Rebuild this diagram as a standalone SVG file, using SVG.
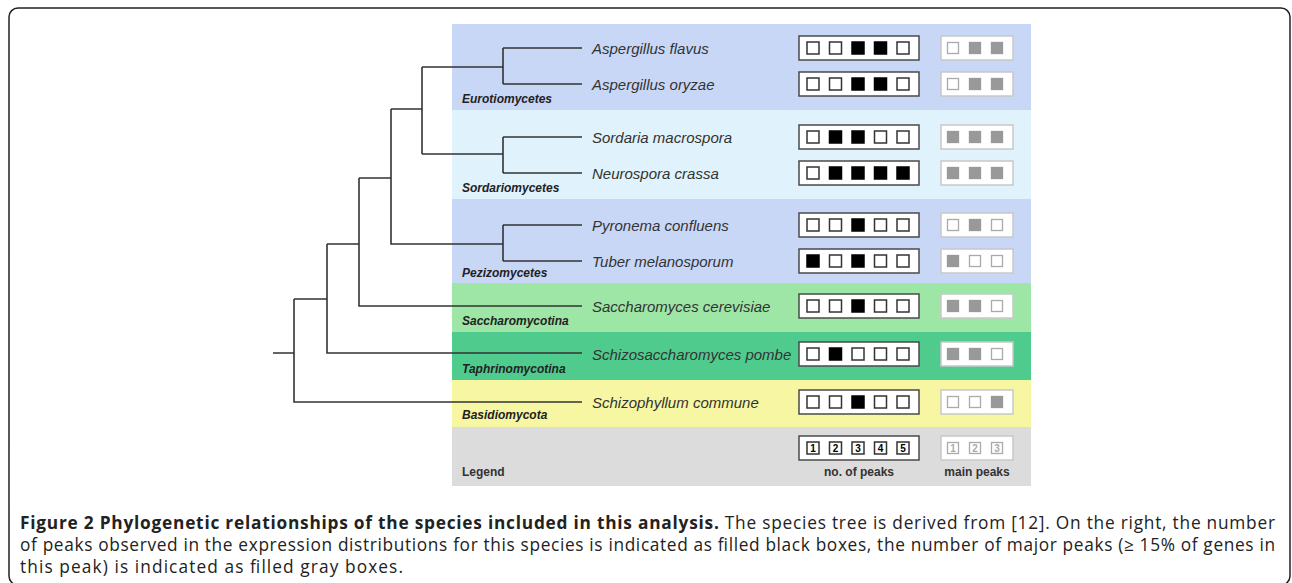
<svg xmlns="http://www.w3.org/2000/svg" width="1292" height="583" viewBox="0 0 1292 583">
<style>
.sp{font-family:"Liberation Sans",Arial,sans-serif;font-style:italic;font-size:15px;fill:#333}
.cl{font-family:"Liberation Sans",Arial,sans-serif;font-style:italic;font-weight:bold;font-size:12px;fill:#222}
.lg{font-family:"Liberation Sans",Arial,sans-serif;font-weight:bold;font-size:12px;fill:#333}
.pb{fill:#fff;stroke:#4a4a4a;stroke-width:1.5}
.mb{fill:#fff;stroke:#c8c8c8;stroke-width:1.5}
.e{fill:#fff;stroke:#333;stroke-width:1.5}
.f{fill:#000;stroke:#000;stroke-width:1.5}
.ge{fill:#fff;stroke:#aaa;stroke-width:1.3}
.gf{fill:#999;stroke:#999;stroke-width:1.3}
.tree path{fill:none;stroke:#333;stroke-width:1.6}
.cap{font-family:"Open Sans",Lato,sans-serif;font-size:17.3px;fill:#222}
.num{font-family:"Liberation Sans",Arial,sans-serif;font-weight:bold;font-size:10px;text-anchor:middle}
</style>
<rect x="9" y="8" width="1281" height="577" rx="9" fill="#fff" stroke="#222" stroke-width="1.5"/>
<g id="bands">
<rect x="452" y="24" width="579" height="86" fill="#c9d7f7"/>
<rect x="452" y="110" width="579" height="89" fill="#e0f2fb"/>
<rect x="452" y="199" width="579" height="84" fill="#c9d7f7"/>
<rect x="452" y="283" width="579" height="49" fill="#9ee6a6"/>
<rect x="452" y="332" width="579" height="48" fill="#4fcb8e"/>
<rect x="452" y="380" width="579" height="47" fill="#f7f7a3"/>
<rect x="452" y="427" width="579" height="59" fill="#dcdcdc"/>
</g>
<g id="clades">
<text class="cl" x="462" y="103">Eurotiomycetes</text>
<text class="cl" x="462" y="192">Sordariomycetes</text>
<text class="cl" x="462" y="277">Pezizomycetes</text>
<text class="cl" x="462" y="325">Saccharomycotina</text>
<text class="cl" x="462" y="373">Taphrinomycotina</text>
<text class="cl" x="462" y="419">Basidiomycota</text>
<text class="lg" x="462" y="476">Legend</text>
</g>
<g id="connectors" class="tree">
<path d="M273,353 H294 M294,299 V402 H582 M294,299 H327 M327,244 V353 H582 M327,244 H359 M359,178 V306 H582 M359,178 H391 M391,109 V244 H503 M503,225 V261 M503,225 H582 M503,261 H582 M391,109 H422 M422,67 V154 M422,67 H503 M503,48 V84 M503,48 H582 M503,84 H582 M422,154 H503 M503,137 V173 M503,137 H582 M503,173 H582"/>
</g>
<defs>
<rect id="E" class="e" width="12" height="12"/>
<rect id="F" class="f" width="12" height="12"/>
<rect id="GE" class="ge" width="11" height="11"/>
<rect id="GF" class="gf" width="11" height="11"/>
</defs>
<g id="row1"><text class="sp" x="592" y="54">Aspergillus flavus</text>
<rect class="pb" x="799" y="36" width="120" height="24"/>
<use href="#E" x="807" y="42"/><use href="#E" x="829.5" y="42"/><use href="#F" x="852" y="42"/><use href="#F" x="874.5" y="42"/><use href="#E" x="897" y="42"/>
<rect class="mb" x="941" y="36" width="72" height="24"/>
<use href="#GE" x="947.5" y="42.5"/><use href="#GF" x="969.5" y="42.5"/><use href="#GF" x="991.5" y="42.5"/></g>
<g id="row2"><text class="sp" x="592" y="90">Aspergillus oryzae</text>
<rect class="pb" x="799" y="72" width="120" height="24"/>
<use href="#E" x="807" y="78"/><use href="#E" x="829.5" y="78"/><use href="#F" x="852" y="78"/><use href="#F" x="874.5" y="78"/><use href="#E" x="897" y="78"/>
<rect class="mb" x="941" y="72" width="72" height="24"/>
<use href="#GE" x="947.5" y="78.5"/><use href="#GF" x="969.5" y="78.5"/><use href="#GF" x="991.5" y="78.5"/></g>
<g id="row3"><text class="sp" x="592" y="143">Sordaria macrospora</text>
<rect class="pb" x="799" y="125" width="120" height="24"/>
<use href="#E" x="807" y="131"/><use href="#F" x="829.5" y="131"/><use href="#F" x="852" y="131"/><use href="#E" x="874.5" y="131"/><use href="#E" x="897" y="131"/>
<rect class="mb" x="941" y="125" width="72" height="24"/>
<use href="#GF" x="947.5" y="131.5"/><use href="#GF" x="969.5" y="131.5"/><use href="#GF" x="991.5" y="131.5"/></g>
<g id="row4"><text class="sp" x="592" y="179">Neurospora crassa</text>
<rect class="pb" x="799" y="161" width="120" height="24"/>
<use href="#E" x="807" y="167"/><use href="#F" x="829.5" y="167"/><use href="#F" x="852" y="167"/><use href="#F" x="874.5" y="167"/><use href="#F" x="897" y="167"/>
<rect class="mb" x="941" y="161" width="72" height="24"/>
<use href="#GF" x="947.5" y="167.5"/><use href="#GF" x="969.5" y="167.5"/><use href="#GF" x="991.5" y="167.5"/></g>
<g id="row5"><text class="sp" x="592" y="231">Pyronema confluens</text>
<rect class="pb" x="799" y="213" width="120" height="24"/>
<use href="#E" x="807" y="219"/><use href="#E" x="829.5" y="219"/><use href="#F" x="852" y="219"/><use href="#E" x="874.5" y="219"/><use href="#E" x="897" y="219"/>
<rect class="mb" x="941" y="213" width="72" height="24"/>
<use href="#GE" x="947.5" y="219.5"/><use href="#GF" x="969.5" y="219.5"/><use href="#GE" x="991.5" y="219.5"/></g>
<g id="row6"><text class="sp" x="592" y="267">Tuber melanosporum</text>
<rect class="pb" x="799" y="249" width="120" height="24"/>
<use href="#F" x="807" y="255"/><use href="#E" x="829.5" y="255"/><use href="#F" x="852" y="255"/><use href="#E" x="874.5" y="255"/><use href="#E" x="897" y="255"/>
<rect class="mb" x="941" y="249" width="72" height="24"/>
<use href="#GF" x="947.5" y="255.5"/><use href="#GE" x="969.5" y="255.5"/><use href="#GE" x="991.5" y="255.5"/></g>
<g id="row7"><text class="sp" x="592" y="312">Saccharomyces cerevisiae</text>
<rect class="pb" x="799" y="294" width="120" height="24"/>
<use href="#E" x="807" y="300"/><use href="#E" x="829.5" y="300"/><use href="#F" x="852" y="300"/><use href="#E" x="874.5" y="300"/><use href="#E" x="897" y="300"/>
<rect class="mb" x="941" y="294" width="72" height="24"/>
<use href="#GF" x="947.5" y="300.5"/><use href="#GF" x="969.5" y="300.5"/><use href="#GE" x="991.5" y="300.5"/></g>
<g id="row8"><text class="sp" x="592" y="360">Schizosaccharomyces pombe</text>
<rect class="pb" x="799" y="342" width="120" height="24"/>
<use href="#E" x="807" y="348"/><use href="#F" x="829.5" y="348"/><use href="#E" x="852" y="348"/><use href="#E" x="874.5" y="348"/><use href="#E" x="897" y="348"/>
<rect class="mb" x="941" y="342" width="72" height="24"/>
<use href="#GF" x="947.5" y="348.5"/><use href="#GF" x="969.5" y="348.5"/><use href="#GE" x="991.5" y="348.5"/></g>
<g id="row9"><text class="sp" x="592" y="408">Schizophyllum commune</text>
<rect class="pb" x="799" y="390" width="120" height="24"/>
<use href="#E" x="807" y="396"/><use href="#E" x="829.5" y="396"/><use href="#F" x="852" y="396"/><use href="#E" x="874.5" y="396"/><use href="#E" x="897" y="396"/>
<rect class="mb" x="941" y="390" width="72" height="24"/>
<use href="#GE" x="947.5" y="396.5"/><use href="#GE" x="969.5" y="396.5"/><use href="#GF" x="991.5" y="396.5"/></g>
<g id="legend">
<rect class="pb" x="799" y="436" width="120" height="24"/>
<use href="#E" x="807" y="442"/><use href="#E" x="829.5" y="442"/><use href="#E" x="852" y="442"/><use href="#E" x="874.5" y="442"/><use href="#E" x="897" y="442"/>
<text class="num" x="813" y="451.5">1</text><text class="num" x="835.5" y="451.5">2</text><text class="num" x="858" y="451.5">3</text><text class="num" x="880.5" y="451.5">4</text><text class="num" x="903" y="451.5">5</text>
<rect class="mb" x="941" y="436" width="72" height="24"/>
<use href="#GE" x="947.5" y="442.5"/><use href="#GE" x="969.5" y="442.5"/><use href="#GE" x="991.5" y="442.5"/>
<text class="num" x="953" y="451.5" fill="#aaa">1</text><text class="num" x="975" y="451.5" fill="#aaa">2</text><text class="num" x="997" y="451.5" fill="#aaa">3</text>
<text class="lg" x="859" y="476" text-anchor="middle">no. of peaks</text>
<text class="lg" x="977" y="476" text-anchor="middle">main peaks</text>
</g>
<g id="caption">
<text class="cap" x="20" y="529" textLength="1255"><tspan font-weight="bold">Figure 2 Phylogenetic relationships of the species included in this analysis.</tspan> The species tree is derived from [12]. On the right, the number</text>
<text class="cap" x="20" y="551" textLength="1255">of peaks observed in the expression distributions for this species is indicated as filled black boxes, the number of major peaks (≥ 15% of genes in</text>
<text class="cap" x="20" y="573" textLength="383">this peak) is indicated as filled gray boxes.</text>
</g>
</svg>
